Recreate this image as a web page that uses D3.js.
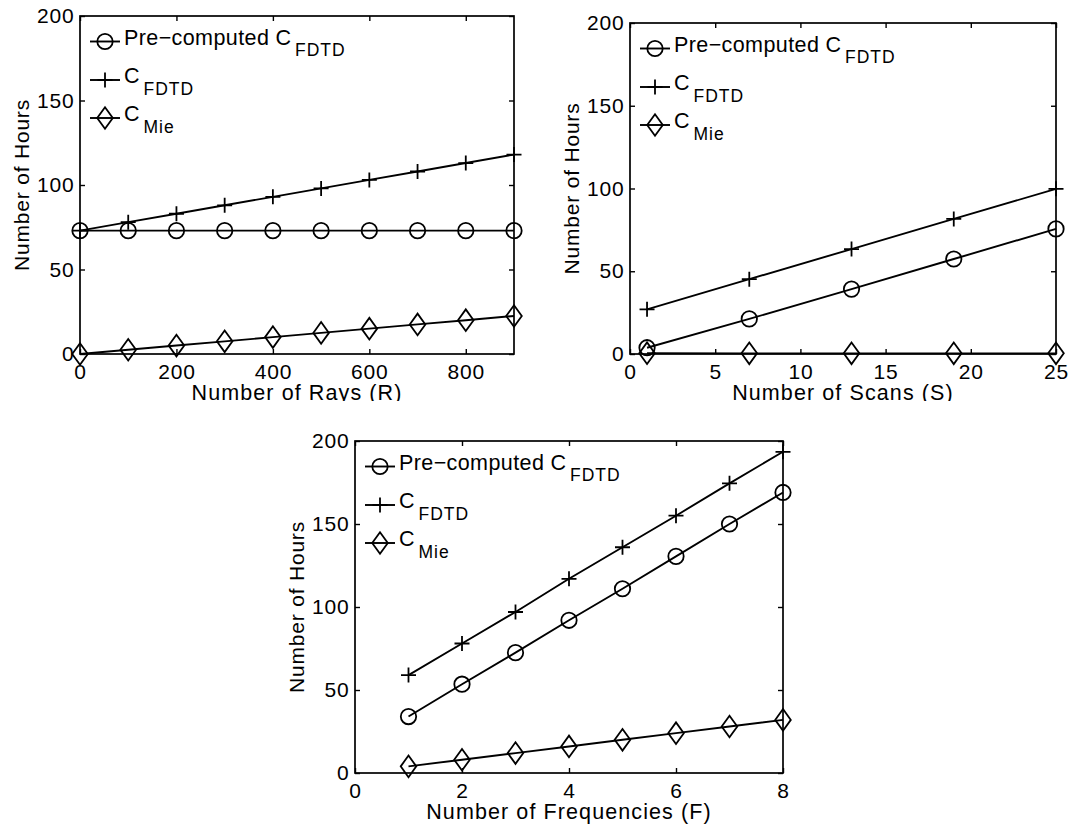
<!DOCTYPE html>
<html>
<head>
<meta charset="utf-8">
<script src="https://cdn.jsdelivr.net/npm/d3@7"></script>
<style>
  html, body { margin: 0; padding: 0; background: #fff; }
  svg { display: block; }
  text { font-family: "Liberation Sans", Arial, Helvetica, sans-serif; fill: #000; }
</style>
</head>
<body>
<svg id="fig" width="1070" height="825"></svg>
<script>
// ---- Data ----
const hourTicks = [0, 50, 100, 150, 200];

const raysX = [0, 100, 200, 300, 400, 500, 600, 700, 800, 900];
const raysPre = [73, 73, 73, 73, 73, 73, 73, 73, 73, 73];
const raysFdtd = [73, 78, 83, 88, 93, 98, 103, 108, 113, 118];
const raysMie = [0, 2.5, 5, 7.5, 10, 12.5, 15, 17.5, 20, 22.5];
const raysTicks = [0, 200, 400, 600, 800];

const scansX = [1, 7, 13, 19, 25];
const scansPre = [3.8, 21.2, 39.2, 57.4, 75.6];
const scansFdtd = [27, 45.2, 63.4, 81.6, 99.8];
const scansMie = [0.5, 0.4, 0.4, 0.4, 0.4];
const scansTicks = [0, 5, 10, 15, 20, 25];

const freqX = [1, 2, 3, 4, 5, 6, 7, 8];
const freqPre = [34, 53.5, 72.5, 92, 111, 130.5, 150, 169];
const freqFdtd = [59, 78, 97, 117, 136, 155, 174.5, 193.5];
const freqMie = [4, 8, 12, 16, 20, 24, 28, 32];
const freqTicks = [0, 2, 4, 6, 8];

const markerKinds = ["circle", "plus", "diamond"];
const legendMain = ["Pre\u2212computed C", "C", "C"];
const legendSub = ["FDTD", "FDTD", "Mie"];
const yTitle = "Number of Hours";

const svg = d3.select("#fig");
svg.append("rect").attr("width", 1070).attr("height", 825).attr("fill", "#fff");

// top row of panels is trimmed just below the axis titles
svg.append("clipPath").attr("id", "topRow")
  .append("rect").attr("x", 0).attr("y", 0).attr("width", 1070).attr("height", 401);

function markerPath(kind) {
  if (kind === "circle") return "M-7.7,0A7.7,7.7 0 1,0 7.7,0A7.7,7.7 0 1,0 -7.7,0Z";
  if (kind === "plus") return "M-7.5,0H7.5M0,-7.5V7.5";
  return "M0,-10.8L7.8,0L0,10.8L-7.8,0Z";
}

function panel(cfg) {
  const g = svg.append("g");
  if (cfg.clip) g.attr("clip-path", "url(#topRow)");
  const { left, right, top, bottom } = cfg.box;
  const x = d3.scaleLinear().domain(cfg.xDomain).range([left, right]);
  const y = d3.scaleLinear().domain([0, 200]).range([bottom, top]);
  const tickFont = 21;

  // axes: inward ticks on all four sides
  const axB = g.append("g").attr("transform", `translate(0,${bottom})`)
    .call(d3.axisBottom(x).tickValues(cfg.xTicks).tickSize(-5).tickPadding(9.6).tickFormat(d3.format("d")));
  const axT = g.append("g").attr("transform", `translate(0,${top})`)
    .call(d3.axisTop(x).tickValues(cfg.xTicks).tickSize(-5).tickFormat(""));
  const axL = g.append("g").attr("transform", `translate(${left},0)`)
    .call(d3.axisLeft(y).tickValues(hourTicks).tickSize(-5).tickPadding(5.5).tickFormat(d3.format("d")));
  const axR = g.append("g").attr("transform", `translate(${right},0)`)
    .call(d3.axisRight(y).tickValues(hourTicks).tickSize(-5).tickFormat(""));
  [axB, axT, axL, axR].forEach(a => {
    a.select(".domain").remove();
    a.selectAll("line").attr("stroke", "#000").attr("stroke-width", 1.4);
    a.selectAll("text").attr("font-size", tickFont).attr("letter-spacing", 0.8)
      .attr("font-family", "Liberation Sans, Arial, sans-serif").attr("fill", "#000");
  });

  g.append("rect").attr("x", left).attr("y", top)
    .attr("width", right - left).attr("height", bottom - top)
    .attr("fill", "none").attr("stroke", "#000").attr("stroke-width", 1.7);

  // axis titles
  g.append("text").attr("x", (left + right) / 2).attr("y", bottom + 45.5)
    .attr("text-anchor", "middle").attr("font-size", 21.5).attr("letter-spacing", 1.1)
    .text(cfg.xTitle);
  g.append("text")
    .attr("transform", `translate(${left - 51},${(top + bottom) / 2}) rotate(-90)`)
    .attr("text-anchor", "middle").attr("font-size", 21).attr("letter-spacing", 0.8)
    .text(yTitle);

  // series
  const line = d3.line().x(d => x(d[0])).y(d => y(d[1]));
  cfg.series.forEach((vals, i) => {
    const pts = cfg.xs.map((v, j) => [v, vals[j]]);
    g.append("path").datum(pts).attr("d", line)
      .attr("fill", "none").attr("stroke", "#000").attr("stroke-width", 1.9);
    g.selectAll(null).data(pts).enter().append("path")
      .attr("transform", d => `translate(${x(d[0])},${y(d[1])})`)
      .attr("d", markerPath(markerKinds[i]))
      .attr("fill", "none").attr("stroke", "#000").attr("stroke-width", 1.8);
  });

  // legend
  const rowY = [25.5, 64, 102];
  markerKinds.forEach((k, i) => {
    const cy = top + rowY[i];
    g.append("line").attr("x1", left + 10).attr("x2", left + 40)
      .attr("y1", cy).attr("y2", cy).attr("stroke", "#000").attr("stroke-width", 1.9);
    g.append("path").attr("transform", `translate(${left + 25},${cy})`)
      .attr("d", markerPath(k)).attr("fill", "none").attr("stroke", "#000").attr("stroke-width", 1.8);
    const t = g.append("text").attr("x", left + 44).attr("y", cy + 3.2)
      .attr("font-size", 21.5).attr("letter-spacing", 0.4);
    t.append("tspan").text(legendMain[i]);
    t.append("tspan").attr("dx", 3.5).attr("dy", 11.5).attr("font-size", 17.5)
      .attr("letter-spacing", 1).text(legendSub[i]);
  });
}

panel({
  box: { left: 80, right: 514, top: 16, bottom: 354 },
  xDomain: [0, 900], xTicks: raysTicks, xs: raysX,
  series: [raysPre, raysFdtd, raysMie],
  xTitle: "Number of Rays (R)", clip: true
});
panel({
  box: { left: 630, right: 1056, top: 23, bottom: 354 },
  xDomain: [0, 25], xTicks: scansTicks, xs: scansX,
  series: [scansPre, scansFdtd, scansMie],
  xTitle: "Number of Scans (S)", clip: true
});
panel({
  box: { left: 355, right: 783, top: 441, bottom: 773 },
  xDomain: [0, 8], xTicks: freqTicks, xs: freqX,
  series: [freqPre, freqFdtd, freqMie],
  xTitle: "Number of Frequencies (F)", clip: false
});
</script>
</body>
</html>
